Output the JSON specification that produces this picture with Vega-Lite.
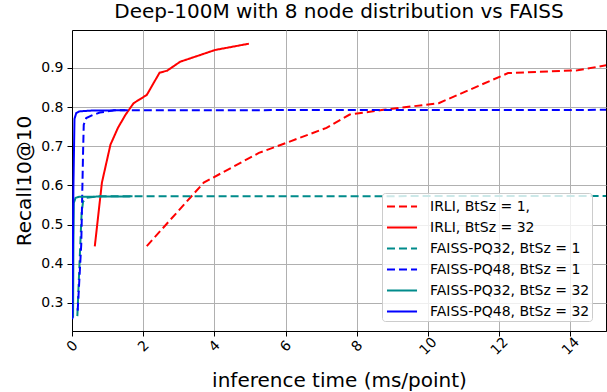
{
  "$schema": "https://vega.github.io/schema/vega-lite/v6.json",
  "width": 534,
  "height": 301,
  "autosize": {"type": "none"},
  "padding": {"left": 72, "top": 30, "right": 1, "bottom": 61},
  "title": {"text": "Deep-100M with 8 node distribution vs FAISS", "fontSize": 20, "font": "DejaVu Sans", "fontWeight": "normal", "color": "#000", "offset": 8, "anchor": "middle"},
  "config": {
    "font": "DejaVu Sans",
    "view": {"stroke": "#000", "strokeWidth": 1},
    "axis": {"labelFont": "DejaVu Sans", "titleFont": "DejaVu Sans", "labelColor": "#000", "titleColor": "#000", "domainColor": "#000", "tickColor": "#000", "tickSize": 5, "gridColor": "#b0b0b0", "gridWidth": 1, "labelFontSize": 14, "titleFontSize": 20, "titleFontWeight": "normal"},
    "legend": {"title": null, "orient": "none", "legendX": 310, "legendY": 163, "fillColor": "rgba(255,255,255,0.8)", "strokeColor": "#cccccc", "cornerRadius": 3, "padding": 2, "labelFontSize": 14, "labelFont": "DejaVu Sans", "labelColor": "#000", "symbolType": "M-0.81,0L2.05,0", "symbolSize": 441, "symbolStrokeWidth": 2, "rowPadding": 2, "labelOffset": 23}
  },
  "data": {"values": [
    {"s": "IRLI, BtSz = 1,", "o": 1, "x": 2.1, "y": 0.445},
    {"s": "IRLI, BtSz = 1,", "o": 2, "x": 3.7, "y": 0.607},
    {"s": "IRLI, BtSz = 1,", "o": 3, "x": 5.25, "y": 0.683},
    {"s": "IRLI, BtSz = 1,", "o": 4, "x": 6.0, "y": 0.708},
    {"s": "IRLI, BtSz = 1,", "o": 5, "x": 7.15, "y": 0.747},
    {"s": "IRLI, BtSz = 1,", "o": 6, "x": 7.8, "y": 0.781},
    {"s": "IRLI, BtSz = 1,", "o": 7, "x": 8.75, "y": 0.793},
    {"s": "IRLI, BtSz = 1,", "o": 8, "x": 10.3, "y": 0.81},
    {"s": "IRLI, BtSz = 1,", "o": 9, "x": 12.25, "y": 0.887},
    {"s": "IRLI, BtSz = 1,", "o": 10, "x": 14.2, "y": 0.894},
    {"s": "IRLI, BtSz = 1,", "o": 11, "x": 15.2, "y": 0.91},
    {"s": "IRLI, BtSz = 32", "o": 1, "x": 0.64, "y": 0.444},
    {"s": "IRLI, BtSz = 32", "o": 2, "x": 0.84, "y": 0.607},
    {"s": "IRLI, BtSz = 32", "o": 3, "x": 1.08, "y": 0.704},
    {"s": "IRLI, BtSz = 32", "o": 4, "x": 1.29, "y": 0.747},
    {"s": "IRLI, BtSz = 32", "o": 5, "x": 1.5, "y": 0.78},
    {"s": "IRLI, BtSz = 32", "o": 6, "x": 1.73, "y": 0.81},
    {"s": "IRLI, BtSz = 32", "o": 7, "x": 2.1, "y": 0.831},
    {"s": "IRLI, BtSz = 32", "o": 8, "x": 2.46, "y": 0.888},
    {"s": "IRLI, BtSz = 32", "o": 9, "x": 2.67, "y": 0.893},
    {"s": "IRLI, BtSz = 32", "o": 10, "x": 3.04, "y": 0.916},
    {"s": "IRLI, BtSz = 32", "o": 11, "x": 3.5, "y": 0.93},
    {"s": "IRLI, BtSz = 32", "o": 12, "x": 4.02, "y": 0.946},
    {"s": "IRLI, BtSz = 32", "o": 13, "x": 4.97, "y": 0.962},
    {"s": "FAISS-PQ32, BtSz = 1", "o": 1, "x": 0.15, "y": 0.266},
    {"s": "FAISS-PQ32, BtSz = 1", "o": 2, "x": 0.22, "y": 0.42},
    {"s": "FAISS-PQ32, BtSz = 1", "o": 3, "x": 0.27, "y": 0.53},
    {"s": "FAISS-PQ32, BtSz = 1", "o": 4, "x": 0.31, "y": 0.558},
    {"s": "FAISS-PQ32, BtSz = 1", "o": 5, "x": 0.4, "y": 0.568},
    {"s": "FAISS-PQ32, BtSz = 1", "o": 6, "x": 0.7, "y": 0.572},
    {"s": "FAISS-PQ32, BtSz = 1", "o": 7, "x": 15.5, "y": 0.573},
    {"s": "FAISS-PQ48, BtSz = 1", "o": 1, "x": 0.16, "y": 0.28},
    {"s": "FAISS-PQ48, BtSz = 1", "o": 2, "x": 0.26, "y": 0.45},
    {"s": "FAISS-PQ48, BtSz = 1", "o": 3, "x": 0.31, "y": 0.68},
    {"s": "FAISS-PQ48, BtSz = 1", "o": 4, "x": 0.33, "y": 0.755},
    {"s": "FAISS-PQ48, BtSz = 1", "o": 5, "x": 0.4, "y": 0.772},
    {"s": "FAISS-PQ48, BtSz = 1", "o": 6, "x": 0.59, "y": 0.78},
    {"s": "FAISS-PQ48, BtSz = 1", "o": 7, "x": 0.78, "y": 0.786},
    {"s": "FAISS-PQ48, BtSz = 1", "o": 8, "x": 1.2, "y": 0.792},
    {"s": "FAISS-PQ48, BtSz = 1", "o": 9, "x": 15.5, "y": 0.793},
    {"s": "FAISS-PQ32, BtSz = 32", "o": 1, "x": 0.03, "y": 0.262},
    {"s": "FAISS-PQ32, BtSz = 32", "o": 2, "x": 0.04, "y": 0.45},
    {"s": "FAISS-PQ32, BtSz = 32", "o": 3, "x": 0.05, "y": 0.555},
    {"s": "FAISS-PQ32, BtSz = 32", "o": 4, "x": 0.1, "y": 0.568},
    {"s": "FAISS-PQ32, BtSz = 32", "o": 5, "x": 0.2, "y": 0.571},
    {"s": "FAISS-PQ32, BtSz = 32", "o": 6, "x": 1.7, "y": 0.572},
    {"s": "FAISS-PQ48, BtSz = 32", "o": 1, "x": 0.01, "y": 0.258},
    {"s": "FAISS-PQ48, BtSz = 32", "o": 2, "x": 0.04, "y": 0.6},
    {"s": "FAISS-PQ48, BtSz = 32", "o": 3, "x": 0.07, "y": 0.77},
    {"s": "FAISS-PQ48, BtSz = 32", "o": 4, "x": 0.12, "y": 0.785},
    {"s": "FAISS-PQ48, BtSz = 32", "o": 5, "x": 0.2, "y": 0.789},
    {"s": "FAISS-PQ48, BtSz = 32", "o": 6, "x": 0.5, "y": 0.791},
    {"s": "FAISS-PQ48, BtSz = 32", "o": 7, "x": 1.5, "y": 0.792}
  ]},
  "mark": {"type": "line", "strokeWidth": 2, "clip": true},
  "encoding": {
    "x": {"field": "x", "type": "quantitative", "scale": {"domain": [0, 15], "nice": false, "zero": false},
      "axis": {"title": "inference time (ms/point)", "values": [0, 2, 4, 6, 8, 10, 12, 14], "labelAngle": -45, "labelAlign": "center", "labelBaseline": "middle", "labelPadding": 10, "titlePadding": 13}},
    "y": {"field": "y", "type": "quantitative", "scale": {"domain": [0.228, 0.997], "nice": false, "zero": false},
      "axis": {"title": "Recall10@10", "values": [0.3, 0.4, 0.5, 0.6, 0.7, 0.8, 0.9], "format": ".1f", "labelPadding": 4, "titlePadding": 6}},
    "order": {"field": "o", "type": "quantitative"},
    "color": {"field": "s", "type": "nominal", "sort": null,
      "scale": {"domain": ["IRLI, BtSz = 1,", "IRLI, BtSz = 32", "FAISS-PQ32, BtSz = 1", "FAISS-PQ48, BtSz = 1", "FAISS-PQ32, BtSz = 32", "FAISS-PQ48, BtSz = 32"],
        "range": ["#ff0000", "#ff0000", "#008b8b", "#0000ff", "#008b8b", "#0000ff"]},
      "legend": {"title": null}},
    "strokeDash": {"field": "s", "type": "nominal", "sort": null,
      "scale": {"domain": ["IRLI, BtSz = 1,", "IRLI, BtSz = 32", "FAISS-PQ32, BtSz = 1", "FAISS-PQ48, BtSz = 1", "FAISS-PQ32, BtSz = 32", "FAISS-PQ48, BtSz = 32"],
        "range": [[8, 4], [1, 0], [8, 4], [8, 4], [1, 0], [1, 0]]},
      "legend": {"title": null}}
  }
}
